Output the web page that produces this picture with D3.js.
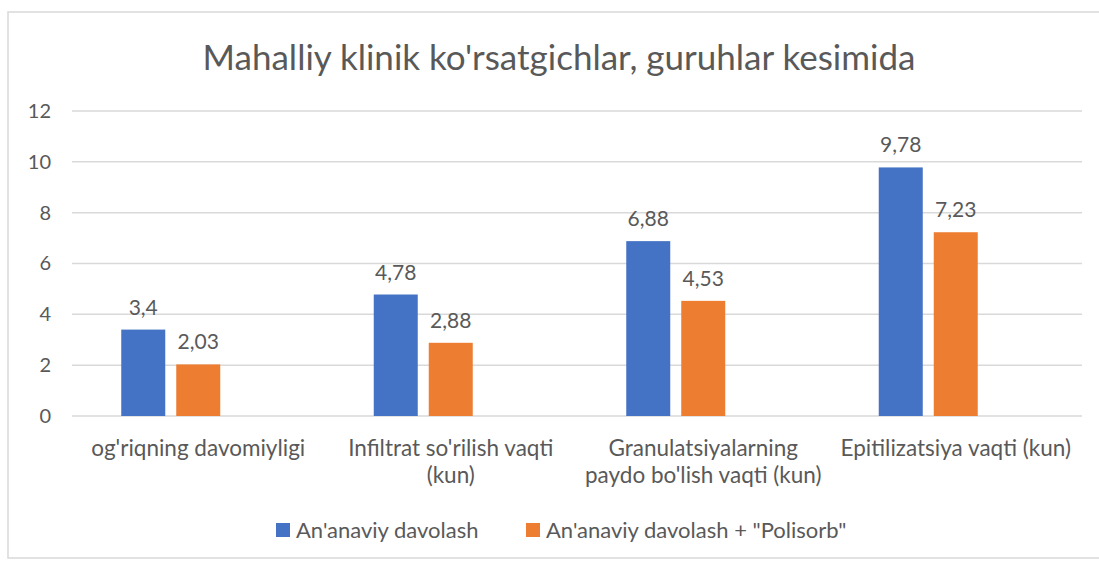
<!DOCTYPE html>
<html>
<head>
<meta charset="utf-8">
<script src="https://cdn.jsdelivr.net/npm/d3@7"></script>
<style>
  body { margin: 0; background: #fff; }
  svg text { font-family: Lato, "Open Sans", sans-serif; fill: #595959; }
</style>
</head>
<body>
<svg id="chart" width="1099" height="561"></svg>
<script>
var title = "Mahalliy klinik ko'rsatgichlar, guruhlar kesimida";
var categories = [
  ["og'riqning davomiyligi"],
  ["Infiltrat so'rilish vaqti", "(kun)"],
  ["Granulatsiyalarning", "paydo bo'lish vaqti (kun)"],
  ["Epitilizatsiya vaqti (kun)"]
];
var seriesNames = ["An'anaviy davolash", "An'anaviy davolash + \"Polisorb\""];
var seriesColors = ["#4472C4", "#ED7D31"];
var traditional = [3.4, 4.78, 6.88, 9.78];
var polisorb = [2.03, 2.88, 4.53, 7.23];
var yTicks = [0, 2, 4, 6, 8, 10, 12];

function drawChart() {
  var svg = d3.select("#chart");

  // chart frame
  svg.append("rect")
    .attr("x", 8).attr("y", 12)
    .attr("width", 1110).attr("height", 546)
    .attr("fill", "none")
    .attr("stroke", "#d9d9d9")
    .attr("stroke-width", 1.5);

  svg.append("text")
    .attr("x", 559).attr("y", 70)
    .attr("text-anchor", "middle")
    .style("font-size", "35px")
    .text(title);

  var plotLeft = 72, plotRight = 1082, plotTop = 111, plotBottom = 416;

  var x0 = d3.scaleBand()
    .domain(d3.range(categories.length))
    .range([plotLeft, plotRight]);

  // three slots per category, the third one stays empty like in the original
  var x1 = d3.scaleBand()
    .domain([0, 1, 2])
    .range([-77, 77])
    .paddingInner(0.2);

  var y = d3.scaleLinear().domain([0, 12]).range([plotBottom, plotTop]);

  // gridlines
  svg.append("g")
    .selectAll("line")
    .data(yTicks)
    .enter().append("line")
    .attr("x1", plotLeft).attr("x2", plotRight)
    .attr("y1", function (d) { return y(d); })
    .attr("y2", function (d) { return y(d); })
    .attr("stroke", "#d9d9d9")
    .attr("stroke-width", 1.5);

  // y axis labels
  var yAxis = svg.append("g")
    .attr("transform", "translate(" + (plotLeft - 21) + ",0)")
    .call(d3.axisLeft(y).tickValues(yTicks).tickSize(0).tickPadding(0));
  yAxis.select(".domain").remove();
  yAxis.selectAll("text")
    .style("font-size", "20px")
    .style("font-family", "Lato, sans-serif")
    .attr("fill", "#595959");

  var values = [traditional, polisorb];

  values.forEach(function (vals, s) {
    var g = svg.append("g");
    g.selectAll("rect")
      .data(vals)
      .enter().append("rect")
      .attr("x", function (d, i) { return x0(i) + x0.bandwidth() / 2 + x1(s); })
      .attr("y", function (d) { return y(d); })
      .attr("width", x1.bandwidth())
      .attr("height", function (d) { return y(0) - y(d); })
      .attr("fill", seriesColors[s]);

    g.selectAll("text")
      .data(vals)
      .enter().append("text")
      .attr("x", function (d, i) { return x0(i) + x0.bandwidth() / 2 + x1(s) + x1.bandwidth() / 2; })
      .attr("y", function (d) { return y(d) - 15; })
      .attr("text-anchor", "middle")
      .style("font-size", "21px")
      .text(function (d) { return String(d).replace(".", ","); });
  });

  // category labels
  var catG = svg.append("g");
  categories.forEach(function (lines, i) {
    var t = catG.append("text")
      .attr("text-anchor", "middle")
      .style("font-size", "22.5px");
    lines.forEach(function (line, j) {
      t.append("tspan")
        .attr("x", x0(i) + x0.bandwidth() / 2)
        .attr("y", 456 + j * 27)
        .text(line);
    });
  });

  // legend
  var legendX = [276, 526];
  var legend = svg.append("g");
  seriesNames.forEach(function (name, s) {
    legend.append("rect")
      .attr("x", legendX[s]).attr("y", 523)
      .attr("width", 14).attr("height", 14)
      .attr("fill", seriesColors[s]);
    legend.append("text")
      .attr("x", legendX[s] + 20).attr("y", 538)
      .style("font-size", "22px")
      .text(name);
  });
}

drawChart();
</script>
</body>
</html>
